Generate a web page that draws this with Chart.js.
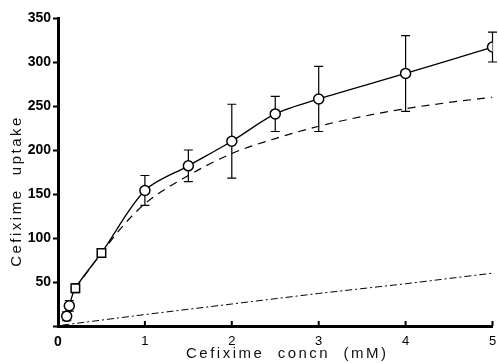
<!DOCTYPE html>
<html><head><meta charset="utf-8">
<script src="https://cdn.jsdelivr.net/npm/chart.js@4/dist/chart.umd.min.js"></script>
<style>html,body{margin:0;padding:0;background:#fff;overflow:hidden}</style>
</head><body>
<canvas id="c" width="499" height="363"></canvas>
<script>
// ---- data ----
const xTickValues = [0, 1, 2, 3, 4, 5];
const yTickValues = [50, 100, 150, 200, 250, 300, 350];
const xTitle = 'Cefixime  concn  (mM)';
const yTitle = 'Cefixime  uptake';

// measured uptake (symbols with error bars, solid line)
const uptakeX   = [0.1, 0.13, 0.2, 0.5, 1, 1.5, 2, 2.5, 3, 4, 5];
const uptakeY   = [11, 23, 43, 83, 154, 182, 210, 241, 258, 287, 317];
const uptakeErr = [5, 6, 5, 5, 17, 18, 42, 20, 37, 43, 17];
const uptakeSymbol = ['circle', 'circle', 'rect', 'rect', 'circle', 'circle', 'circle', 'circle', 'circle', 'circle', 'circle'];

// saturable component (dashed)
const saturableX = [0.2, 0.5, 0.75, 1, 1.5, 2, 2.5, 3, 3.5, 4, 4.5, 5];
const saturableY = [43, 83, 114, 139, 171, 196, 213, 227, 238, 247, 254, 260];

// non-saturable component (dash-dot)
const linearX = [0.05, 1, 2, 3, 4, 5];
const linearY = [1, 13, 25, 37, 48, 60];

const pts = (xs, ys) => xs.map((x, i) => ({x, y: ys[i]}));

const errorBars = {
  id: 'errorBars',
  beforeDatasetsDraw(chart) {
    const {ctx, scales: {x, y}} = chart;
    ctx.save();
    ctx.strokeStyle = '#000';
    ctx.lineWidth = 1.2;
    uptakeX.forEach((xv, i) => {
      const px = x.getPixelForValue(xv);
      const top = y.getPixelForValue(uptakeY[i] + uptakeErr[i]);
      const bot = y.getPixelForValue(uptakeY[i] - uptakeErr[i]);
      ctx.beginPath();
      ctx.moveTo(px, top); ctx.lineTo(px, bot);
      ctx.moveTo(px - 4.5, top); ctx.lineTo(px + 4.5, top);
      ctx.moveTo(px - 4.5, bot); ctx.lineTo(px + 4.5, bot);
      ctx.stroke();
    });
    ctx.restore();
  }
};

const decor = {
  id: 'decor',
  afterDraw(chart) {
    const {ctx, chartArea: a, scales: {x}} = chart;
    ctx.save();
    // inward x ticks
    ctx.strokeStyle = '#000';
    ctx.lineWidth = 2;
    xTickValues.slice(1).forEach(v => {
      const px = x.getPixelForValue(v);
      ctx.beginPath(); ctx.moveTo(px, a.bottom); ctx.lineTo(px, a.bottom - 5); ctx.stroke();
    });
    // axis titles
    ctx.fillStyle = '#111';
    ctx.font = '15px "Liberation Sans", Arial, sans-serif';
    ctx.letterSpacing = '2.5px';
    ctx.textAlign = 'center';
    ctx.textBaseline = 'middle';
    ctx.fillText(xTitle, (a.left + a.right) / 2 + 12, 354);
    ctx.translate(17, (a.top + a.bottom) / 2 + 19);
    ctx.rotate(-Math.PI / 2);
    ctx.fillText(yTitle, 0, 0);
    ctx.restore();
  }
};

new Chart(document.getElementById('c'), {
  type: 'scatter',
  data: {
    datasets: [
      {
        label: 'uptake',
        data: pts(uptakeX, uptakeY),
        showLine: true,
        borderColor: '#000',
        borderWidth: 1.3,
        tension: 0.3,
        pointStyle: uptakeSymbol,
        pointRadius: uptakeSymbol.map(s => s === 'rect' ? 6 : 5),
        pointBorderWidth: 1.5,
        pointBorderColor: '#000',
        pointBackgroundColor: '#fff',
        order: 0
      },
      {
        label: 'saturable',
        data: pts(saturableX, saturableY),
        showLine: true,
        borderColor: '#000',
        borderWidth: 1.2,
        borderDash: [8, 6],
        cubicInterpolationMode: 'monotone',
        pointRadius: 0,
        order: 1
      },
      {
        label: 'linear',
        data: pts(linearX, linearY),
        showLine: true,
        borderColor: '#000',
        borderWidth: 1,
        borderDash: [7, 3, 2, 3],
        pointRadius: 0,
        order: 2
      }
    ]
  },
  options: {
    responsive: false,
    animation: false,
    devicePixelRatio: 1,
    layout: {padding: {top: 18, right: 2, left: 0, bottom: 0}},
    plugins: {legend: {display: false}, tooltip: {enabled: false}},
    scales: {
      x: {
        type: 'linear', min: 0, max: 5,
        afterBuildTicks: s => { s.ticks = xTickValues.map(v => ({value: v})); },
        afterFit: s => { s.paddingLeft = 0; s.paddingRight = 0; s.height = 37; },
        ticks: {
          color: '#000', padding: 8,
          font: c => (c.tick && c.tick.value === 0)
            ? {family: 'Liberation Sans', size: 14, weight: 'bold'}
            : {family: 'Liberation Sans', size: 13}
        },
        grid: {drawOnChartArea: false, drawTicks: false},
        border: {color: '#000', width: 3}
      },
      y: {
        type: 'linear', min: 0, max: 350,
        afterBuildTicks: s => { s.ticks = [0].concat(yTickValues).map(v => ({value: v})); },
        afterFit: s => { s.width = 58; },
        ticks: {
          color: '#000', padding: 2,
          callback: v => v === 0 ? '' : v,
          font: {family: 'Liberation Sans', size: 14, weight: 'bold'}
        },
        grid: {drawOnChartArea: false, tickLength: 5, tickWidth: 2, tickColor: '#000'},
        border: {color: '#000', width: 3}
      }
    }
  },
  plugins: [errorBars, decor]
});
</script>
</body></html>
